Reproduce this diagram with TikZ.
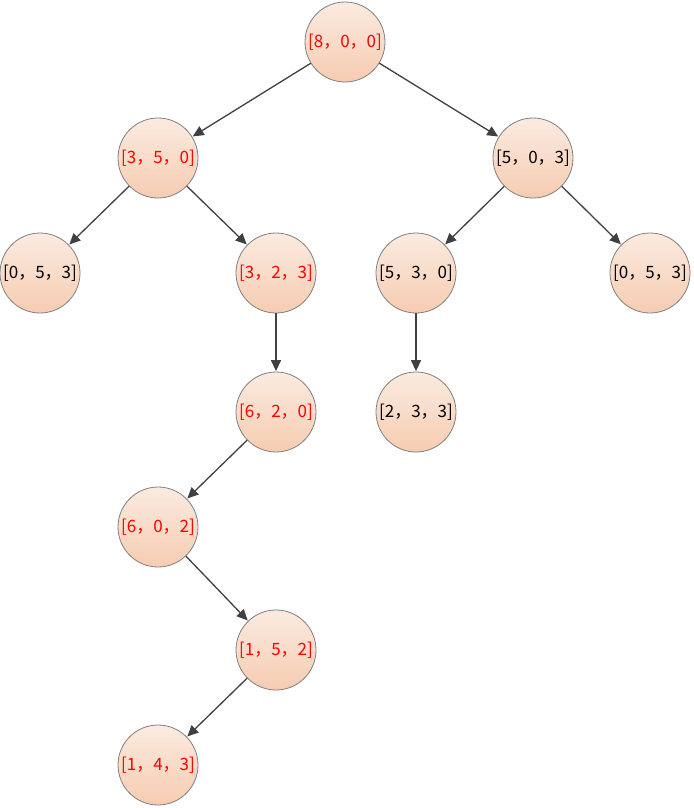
\documentclass[tikz,border=0pt]{standalone}
\usepackage{fontspec}
\newfontfamily\cjk{Noto Sans CJK SC}
\usetikzlibrary{arrows.meta}
\definecolor{edgec}{HTML}{404040}
\definecolor{rimc}{HTML}{808080}
\definecolor{topc}{HTML}{FBEBE0}
\definecolor{botc}{HTML}{F6CCB1}
\definecolor{redt}{HTML}{FF0000}
\tikzset{
  st/.style={circle, draw=rimc, line width=0.8pt, minimum size=80pt, inner sep=0pt,
    top color=topc, bottom color=botc, font=\cjk\fontsize{17}{17}\selectfont, text=black},
  hot/.style={st, text=redt},
  arr/.style={draw=edgec, line width=1.3pt, -{Triangle[length=11pt,width=10pt]}, shorten >=0.5pt}
}
\begin{document}
\begin{tikzpicture}[x=1pt,y=-1pt]
\useasboundingbox (0,0) rectangle (693,808);
\node[hot] (a) at (345,42) {[8，0，0]};
\node[hot] (b) at (158,158) {[3，5，0]};
\node[st]  (c) at (533,158) {[5，0，3]};
\node[st]  (d) at (40,273) {[0，5，3]};
\node[hot] (e) at (276,273) {[3，2，3]};
\node[st]  (f) at (416,273) {[5，3，0]};
\node[st]  (g) at (650,273) {[0，5，3]};
\node[hot] (h) at (276,412) {[6，2，0]};
\node[st]  (i) at (416,412) {[2，3，3]};
\node[hot] (j) at (158,527) {[6，0，2]};
\node[hot] (k) at (276,650) {[1，5，2]};
\node[hot] (l) at (158,765) {[1，4，3]};
\draw[arr] (a) -- (b);
\draw[arr] (a) -- (c);
\draw[arr] (b) -- (d);
\draw[arr] (b) -- (e);
\draw[arr] (c) -- (f);
\draw[arr] (c) -- (g);
\draw[arr] (e) -- (h);
\draw[arr] (f) -- (i);
\draw[arr] (h) -- (j);
\draw[arr] (j) -- (k);
\draw[arr] (k) -- (l);
\end{tikzpicture}
\end{document}
